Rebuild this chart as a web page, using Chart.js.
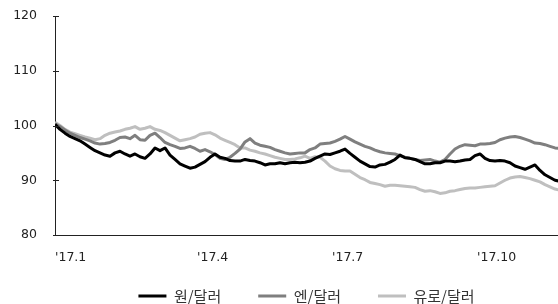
<!DOCTYPE html>
<html>
<head>
<meta charset="utf-8">
<script src="https://cdn.jsdelivr.net/npm/chart.js@4"></script>
<style>
  html, body { margin: 0; padding: 0; background: #fff; overflow: hidden; }
  #wrap { position: relative; width: 558px; height: 304px; }
</style>
</head>
<body>
<div id="wrap"><canvas id="fx-chart"></canvas></div>
<script>
// Exchange rate index (2017.1.2 = 100), one point every ~3 days
const seriesNames = ['원/달러', '엔/달러', '유로/달러'];
const seriesColours = ['#000000', '#7f7f7f', '#bfbfbf'];

const wonDollar = [100.2, 99.3, 98.6, 98.0, 97.6, 97.2, 96.6, 96.0, 95.4, 95.0,
  94.6, 94.4, 95.0, 95.3, 94.8, 94.4, 94.8, 94.3, 94.0, 94.8,
  95.9, 95.4, 95.9, 94.6, 93.8, 93.0, 92.6, 92.2, 92.4, 92.9,
  93.4, 94.2, 94.8, 94.2, 94.0, 93.6, 93.5, 93.5, 93.8, 93.6,
  93.5, 93.2, 92.8, 93.0, 93.0, 93.2, 93.0, 93.2, 93.3, 93.2,
  93.3, 93.5, 94.0, 94.4, 94.8, 94.7, 95.0, 95.3, 95.7, 94.9,
  94.2, 93.5, 93.0, 92.5, 92.4, 92.8, 92.9, 93.3, 93.8, 94.6,
  94.1, 94.0, 93.8, 93.4, 93.0, 93.0, 93.2, 93.2, 93.5, 93.5,
  93.4, 93.5, 93.7, 93.8, 94.5, 94.8, 94.0, 93.6, 93.5, 93.6,
  93.5, 93.2, 92.6, 92.3, 92.0, 92.4, 92.8, 91.8, 91.0, 90.5,
  90.0, 89.8];

const yenDollar = [100.3, 99.8, 99.2, 98.6, 98.2, 97.8, 97.5, 97.2, 96.8, 96.6,
  96.7, 96.9, 97.3, 97.8, 97.9, 97.6, 98.2, 97.4, 97.3, 98.2,
  98.6, 97.8, 96.9, 96.5, 96.2, 95.8, 95.9, 96.2, 95.8, 95.3,
  95.6, 95.2, 94.7, 94.0, 93.8, 94.2, 94.9, 95.7, 97.0, 97.6,
  96.8, 96.4, 96.2, 96.0, 95.6, 95.3, 95.0, 94.8, 94.9, 95.0,
  95.0, 95.6, 95.9, 96.6, 96.7, 96.8, 97.1, 97.5, 98.0, 97.5,
  97.0, 96.6, 96.2, 95.9, 95.5, 95.2, 95.0, 94.9, 94.8, 94.5,
  94.2, 94.0, 93.8, 93.6, 93.7, 93.8, 93.5, 93.3, 93.8, 94.8,
  95.7, 96.2, 96.5, 96.4, 96.3, 96.6, 96.6, 96.7, 96.9, 97.4,
  97.7, 97.9, 98.0, 97.8, 97.5, 97.2, 96.8, 96.7, 96.5, 96.2,
  95.9, 95.8];

const euroDollar = [100.6, 100.0, 99.3, 98.8, 98.5, 98.2, 97.9, 97.7, 97.4, 97.6,
  98.2, 98.6, 98.8, 99.0, 99.3, 99.5, 99.8, 99.3, 99.5, 99.8,
  99.3, 99.1, 98.7, 98.2, 97.7, 97.2, 97.4, 97.6, 97.9, 98.4,
  98.6, 98.7, 98.3, 97.7, 97.3, 96.9, 96.5, 95.9, 95.9, 95.5,
  95.3, 95.0, 94.8, 94.5, 94.2, 94.0, 93.8, 93.8, 93.9, 94.1,
  94.4, 94.0, 94.3, 94.2, 93.5, 92.6, 92.1, 91.8, 91.7, 91.7,
  91.1, 90.5, 90.1, 89.6, 89.4, 89.2, 88.9, 89.1, 89.1, 89.0,
  88.9, 88.8, 88.7, 88.3, 88.0, 88.1, 87.9, 87.6, 87.7, 88.0,
  88.1, 88.3, 88.5, 88.6, 88.6, 88.7, 88.8, 88.9, 89.0, 89.5,
  90.0, 90.4, 90.6, 90.7, 90.5, 90.3, 90.0, 89.7, 89.2, 88.8,
  88.4, 88.2];

// x tick positions (point index where each quarter starts) and labels
const quarterTicks = [0, 28.4, 55.4, 84.4];
const quarterLabels = ["'17.1", "'17.4", "'17.7", "'17.10"];

const toPoints = (arr) => arr.map((v, i) => ({ x: i, y: v }));

// small inward ticks on the y axis, like the original
const yTickMarks = {
  id: 'yTickMarks',
  afterLayout(chart) {
    // let the x labels overlap the (empty) top of the legend box without being clipped
    chart.scales.x.bottom = chart.scales.x.top + 36;
  },
  afterDraw(chart) {
    const ctx = chart.ctx;
    const yScale = chart.scales.y;
    const left = Math.round(chart.chartArea.left);
    ctx.save();
    ctx.strokeStyle = '#222';
    ctx.lineWidth = 1;
    yScale.ticks.forEach((t) => {
      const py = Math.round(yScale.getPixelForValue(t.value)) + 0.5;
      ctx.beginPath();
      ctx.moveTo(left - 2, py);
      ctx.lineTo(left + 4, py);
      ctx.stroke();
    });
    ctx.restore();
  }
};

const datasets = [wonDollar, yenDollar, euroDollar].map((arr, i) => ({
  label: seriesNames[i],
  data: toPoints(arr),
  borderColor: seriesColours[i],
  backgroundColor: seriesColours[i],
  borderWidth: 3,
  pointRadius: 0,
  tension: 0,
  borderJoinStyle: 'round'
}));

const ctx = document.getElementById('fx-chart').getContext('2d');
new Chart(ctx, {
  type: 'line',
  data: { datasets: datasets },
  plugins: [yTickMarks],
  options: {
    responsive: true,
    maintainAspectRatio: false,
    animation: false,
    layout: { padding: { top: 16, right: 0, left: 0, bottom: -9.5 } },
    scales: {
      x: {
        type: 'linear',
        min: 0,
        max: 100.6,
        afterBuildTicks: (scale) => {
          scale.ticks = quarterTicks.map((v) => ({ value: v }));
        },
        afterFit: (scale) => { scale.height = 16.5; },
        ticks: {
          align: 'start',
          padding: 15,
          maxRotation: 0,
          color: '#222',
          font: { family: 'DejaVu Sans', size: 12.5 },
          callback: function (value, index) {
            return quarterLabels[index];
          }
        },
        grid: { display: true, drawOnChartArea: false, drawTicks: false, color: '#222' },
        border: { display: true, color: '#222', width: 1 }
      },
      y: {
        min: 80,
        max: 120,
        afterFit: (scale) => {
          scale.width = 55;
          scale.paddingTop = 7;
          scale.paddingBottom = 7;
        },
        ticks: {
          stepSize: 10,
          padding: 18,
          color: '#222',
          font: { family: 'DejaVu Sans', size: 12.5 }
        },
        grid: { display: true, drawOnChartArea: false, drawTicks: false, color: '#222' },
        border: { display: true, color: '#222', width: 1 }
      }
    },
    plugins: {
      tooltip: { enabled: false },
      legend: {
        position: 'bottom',
        fullSize: false,
        labels: {
          usePointStyle: true,
          pointStyle: 'line',
          pointStyleWidth: 28,
          padding: 37,
          color: '#333',
          font: { family: 'Noto Sans CJK KR', size: 15 }
        }
      }
    }
  }
});
</script>
</body>
</html>
